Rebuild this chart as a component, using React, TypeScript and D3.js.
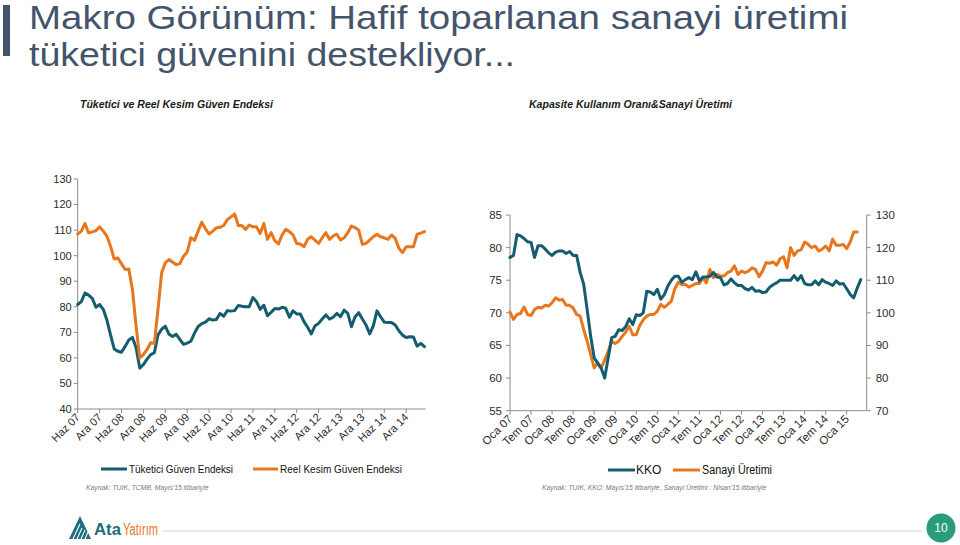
import React from "react";
import * as d3 from "d3";

const W = 960;
const H = 545;
const FONT = "'Liberation Sans', Arial, Helvetica, sans-serif";
const TEAL = "#145C6F";
const ORANGE = "#E8761C";
const AXIS = "#8C8C8C";
const LABEL = "#2b2b2b";
const SLATE = "#44546A";

// Left chart: monthly, Haz 07 .. May 15
const leftTickLabels = ["Haz 07", "Ara 07", "Haz 08", "Ara 08", "Haz 09", "Ara 09", "Haz 10", "Ara 10", "Haz 11", "Ara 11", "Haz 12", "Ara 12", "Haz 13", "Ara 13", "Haz 14", "Ara 14"];
const leftYTicks = [40, 50, 60, 70, 80, 90, 100, 110, 120, 130];
const tuketici = [
  80.9, 82, 85.4, 84.6, 83.3, 79.8, 80.9, 79, 74.8, 69, 63.5, 62.6, 62.2, 64.5, 67, 68, 64, 56, 57.4, 59.5,
  61.3, 62, 69, 71.2, 72.4, 69.3, 68.4, 69.2, 67.2, 65.3, 65.8, 66.5, 69.7, 72.3, 73.4, 74, 75.3, 74.8, 75, 77.4,
  76.3, 78.5, 78.3, 78.5, 80.5, 80.2, 80, 80, 83.6, 82, 79, 80.6, 76.5, 77.8, 79.3, 79.1, 79.8, 79.4, 75.9, 78.4,
  77.2, 77.2, 74.2, 72, 69.4, 72.5, 73.5, 75.2, 76.8, 75.2, 75.9, 77.4, 76.1, 78.7, 77.4, 72.2, 76.1, 77.7, 75.2, 72.9,
  69.4, 72.5, 78.4, 76.1, 74, 73.8, 73.8, 72.9, 70.6, 68.9, 68, 68.3, 68.2, 64.6, 65.7, 64.4,
];
const reelKesim = [
  108.5, 109.6, 112.6, 108.9, 109.3, 109.8, 111.3, 109.6, 107.6, 103.7, 98.7, 99.1, 96.8, 94.6, 94.8, 86.8, 72.4, 60, 61.3, 63.3,
  65.9, 65.6, 79, 93.3, 97.2, 98.5, 97.4, 96.5, 96.9, 99.8, 101.4, 107, 106, 109.6, 113.1, 110.5, 108.5, 109.6, 110.9, 111.1,
  111.8, 114.1, 115.2, 116.3, 111.8, 111.8, 110.3, 112, 111.3, 111.3, 108.7, 112.6, 106.4, 109, 105.9, 104.6, 108.1, 110.3, 109.4, 108.1,
  104.8, 104.6, 103.5, 106.4, 107.4, 106.1, 104.8, 107, 109, 106.4, 107.7, 108.4, 106.1, 107, 109, 111.6, 111, 110, 104.4, 104.8,
  106.1, 107.4, 108.4, 107.4, 107, 106.4, 108.1, 106.8, 102.9, 101.2, 103.5, 103.5, 103.5, 108.4, 108.8, 109.4,
];

// Right chart: monthly, Oca 07 .. May 15 (KKO), .. Nisan 15 (Sanayi)
const rightTickLabels = ["Oca 07", "Tem 07", "Oca 08", "Tem 08", "Oca 09", "Tem 09", "Oca 10", "Tem 10", "Oca 11", "Tem 11", "Oca 12", "Tem 12", "Oca 13", "Tem 13", "Oca 14", "Tem 14", "Oca 15"];
const kkoTicks = [55, 60, 65, 70, 75, 80, 85];
const sanayiTicks = [70, 80, 90, 100, 110, 120, 130];
const kko = [
  78.5, 78.8, 82, 81.8, 81.4, 80.9, 80.8, 78.5, 80.3, 80.3, 79.8, 79.2, 78.8, 79.3, 79.5, 79.5, 79.1, 79.4, 78.8, 78.8,
  76.2, 74.4, 70.5, 66.4, 63.1, 62.3, 61.5, 60, 63.1, 66.2, 66.4, 67.4, 67.3, 67.9, 69.1, 68.2, 69.7, 69.6, 70, 73.3,
  73.2, 72.8, 73.6, 72.1, 72.8, 74.1, 75, 75.6, 75.6, 74.7, 75.1, 75.4, 75.1, 76.3, 74.9, 75.5, 75.5, 75.6, 76.2, 75.5,
  75.4, 74.3, 74.5, 75.2, 74.6, 74.2, 74.2, 73.7, 73.5, 73.9, 73.3, 73.4, 73.1, 73.2, 73.9, 74.3, 74.6, 75, 75, 75,
  75, 75.7, 75, 75.7, 74.5, 74.3, 74.3, 74.9, 74.3, 75.1, 74.7, 74.5, 74.2, 74.9, 74.4, 74.5, 73.7, 72.8, 72.3, 73.8, 75.1,
];
const sanayi = [
  100.2, 98, 99.5, 99.8, 101.8, 99.5, 99.2, 101, 101.7, 101.5, 102.3, 102.1, 103.1, 104.6, 103.9, 104.1, 102.3, 102.3, 101.5, 99.5,
  99, 94.9, 91.3, 87.2, 83.1, 84.6, 83.1, 85.6, 88.2, 91.3, 90.6, 91.3, 92.8, 94.1, 95.9, 93.3, 93.3, 96.1, 97.9, 99,
  99.5, 99.5, 100.5, 102.6, 101.7, 102.6, 103.6, 107.4, 109.4, 108.7, 108.7, 107.9, 108.4, 109, 109, 110.8, 109.2, 113.3, 110.8, 111.8,
  111.3, 111.3, 112.3, 112.8, 114.4, 111.8, 112.8, 112.3, 112.8, 113.8, 113.3, 111.1, 112.8, 115.4, 115.2, 115.6, 114.6, 116.6, 117.2, 113.8,
  120, 117.6, 119, 119.3, 121.7, 121, 120, 120.5, 119, 119.5, 120.5, 119, 122.6, 120.7, 120.7, 121, 119.7, 121.7, 124.8, 124.8,
];

export default function App() {
  // scales
  const xL = d3.scaleLinear().domain([0, 95.3]).range([77.7, 425.5]);
  const yL = d3.scaleLinear().domain([40, 130]).range([409, 179]);
  const xR = d3.scaleLinear().domain([0, 101.7]).range([510, 866.7]);
  const yR1 = d3.scaleLinear().domain([55, 85]).range([410.7, 215]);
  const yR2 = d3.scaleLinear().domain([70, 130]).range([410.7, 215]);

  const lineL = d3.line<number>().x((_, i) => xL(i)).y((d) => yL(d));
  const lineR1 = d3.line<number>().x((_, i) => xR(i)).y((d) => yR1(d));
  const lineR2 = d3.line<number>().x((_, i) => xR(i)).y((d) => yR2(d));

  const lineStyle = { fill: "none", strokeWidth: 3, strokeLinejoin: "round" as const, strokeLinecap: "round" as const };

  return (
    <svg width={W} height={H} viewBox={`0 0 ${W} ${H}`} style={{ display: "block", position: "absolute", left: 0, top: 0, background: "#fff" }} fontFamily={FONT}>
      <rect x={0} y={0} width={W} height={H} fill="#fff" />
      {/* Title */}
      <rect x={3} y={5} width={7} height={51} fill={SLATE} />
      <text x={29} y={29} fontSize={32.5} fill={SLATE} textLength={819} lengthAdjust="spacingAndGlyphs">Makro Görünüm: Hafif toparlanan sanayi üretimi</text>
      <text x={29} y={66} fontSize={32.5} fill={SLATE} textLength={486} lengthAdjust="spacingAndGlyphs">tüketici güvenini destekliyor...</text>

      {/* Subtitles */}
      <text x={80} y={108} fontSize={10.5} fontStyle="italic" fontWeight="bold" fill="#1a1a1a" textLength={193} lengthAdjust="spacingAndGlyphs">Tüketici ve Reel Kesim Güven Endeksi</text>
      <text x={529} y={108} fontSize={10.5} fontStyle="italic" fontWeight="bold" fill="#1a1a1a" textLength={203} lengthAdjust="spacingAndGlyphs">Kapasite Kullanım Oranı&amp;Sanayi Üretimi</text>

      {/* LEFT CHART */}
      <g>
        <line x1={xL(0)} x2={xL(0)} y1={yL(40)} y2={yL(130)} stroke={AXIS} strokeWidth={1} />
        <line x1={xL(0)} x2={xL.range()[1]} y1={yL(40)} y2={yL(40)} stroke={AXIS} strokeWidth={1} />
        {leftYTicks.map((t) => (
          <g key={t}>
            <line x1={xL(0) - 4} x2={xL(0)} y1={yL(t)} y2={yL(t)} stroke={AXIS} />
            <text x={xL(0) - 6} y={yL(t)} dy="0.35em" textAnchor="end" fontSize={11} fill={LABEL}>{t}</text>
          </g>
        ))}
        {leftTickLabels.map((lab, i) => {
          const x = xL(i * 6);
          return (
            <g key={lab}>
              <line x1={x} x2={x} y1={yL(40)} y2={yL(40) + 4} stroke={AXIS} />
              <text transform={`translate(${x + 3},${yL(40) + 9}) rotate(-45)`} textAnchor="end" fontSize={11} fill={LABEL}>{lab}</text>
            </g>
          );
        })}
        <path d={lineL(tuketici) || ""} stroke={TEAL} {...lineStyle} />
        <path d={lineL(reelKesim) || ""} stroke={ORANGE} {...lineStyle} />
      </g>

      {/* RIGHT CHART */}
      <g>
        <line x1={xR(0)} x2={xR(0)} y1={yR1(55)} y2={yR1(85)} stroke={AXIS} />
        <line x1={xR.range()[1]} x2={xR.range()[1]} y1={yR1(55)} y2={yR1(85)} stroke={AXIS} />
        <line x1={xR(0)} x2={xR.range()[1]} y1={yR1(55)} y2={yR1(55)} stroke={AXIS} />
        {kkoTicks.map((t) => (
          <g key={t}>
            <line x1={xR(0) - 4} x2={xR(0)} y1={yR1(t)} y2={yR1(t)} stroke={AXIS} />
            <text x={xR(0) - 8} y={yR1(t)} dy="0.35em" textAnchor="end" fontSize={11.5} fill={LABEL}>{t}</text>
          </g>
        ))}
        {sanayiTicks.map((t) => (
          <g key={t}>
            <line x1={xR.range()[1]} x2={xR.range()[1] + 4} y1={yR2(t)} y2={yR2(t)} stroke={AXIS} />
            <text x={xR.range()[1] + 9} y={yR2(t)} dy="0.35em" textAnchor="start" fontSize={11.5} fill={LABEL}>{t}</text>
          </g>
        ))}
        {rightTickLabels.map((lab, i) => {
          const x = xR(i * 6);
          return (
            <g key={lab}>
              <line x1={x} x2={x} y1={yR1(55)} y2={yR1(55) + 4} stroke={AXIS} />
              <text transform={`translate(${x + 3},${yR1(55) + 9}) rotate(-45)`} textAnchor="end" fontSize={11.5} fill={LABEL}>{lab}</text>
            </g>
          );
        })}
        <path d={lineR2(sanayi) || ""} stroke={ORANGE} {...lineStyle} />
        <path d={lineR1(kko) || ""} stroke={TEAL} {...lineStyle} />
      </g>

      {/* Legends */}
      <g fontSize={11.5} fill="#111">
        <line x1={101} x2={127} y1={469} y2={469} stroke={TEAL} strokeWidth={3} />
        <text x={129} y={469} dy="0.35em" textLength={104} lengthAdjust="spacingAndGlyphs">Tüketici Güven Endeksi</text>
        <line x1={253} x2={278} y1={469} y2={469} stroke={ORANGE} strokeWidth={3} />
        <text x={280} y={469} dy="0.35em" textLength={122} lengthAdjust="spacingAndGlyphs">Reel Kesim Güven Endeksi</text>

        <line x1={608} x2={635} y1={470} y2={470} stroke={TEAL} strokeWidth={3} />
        <text x={636} y={470} dy="0.35em" fontSize={12}>KKO</text>
        <line x1={673} x2={700} y1={470} y2={470} stroke={ORANGE} strokeWidth={3} />
        <text x={702} y={470} dy="0.35em" fontSize={12} textLength={70} lengthAdjust="spacingAndGlyphs">Sanayi Üretimi</text>
      </g>

      {/* Sources */}
      <text x={86} y={490} fontSize={6.8} fontStyle="italic" fill="#777">Kaynak: TUIK, TCMB, Mayıs'15 itibariyle</text>
      <text x={542} y={490} fontSize={6.8} fontStyle="italic" fill="#777">Kaynak: TUIK, KKO: Mayıs'15 itibariyle, Sanayi Üretimi : Nisan'15 itibariyle</text>

      {/* Footer */}
      <g>
        <path d="M69,539 L80,516 L91,539 Z" fill="#1C6D7E" />
        <path d="M73,539 L80,524 M77,539 L82,528 M81,539 L85,530 M85,539 L88,532" stroke="#fff" strokeWidth={1.1} />
        <text x={94} y={535} fontSize={16} fontWeight="bold" fill="#1C6D7E" textLength={27} lengthAdjust="spacingAndGlyphs">Ata</text>
        <text x={123} y={535} fontSize={16} fill={ORANGE} textLength={35} lengthAdjust="spacingAndGlyphs">Yatırım</text>
        <line x1={162} x2={922} y1={531} y2={531} stroke="#d6d6d6" strokeWidth={1} />
        <circle cx={941} cy={528} r={14.5} fill="#2A9C7B" />
        <text x={941} y={528} dy="0.36em" textAnchor="middle" fontSize={12} fill="#fff">10</text>
      </g>
    </svg>
  );
}
